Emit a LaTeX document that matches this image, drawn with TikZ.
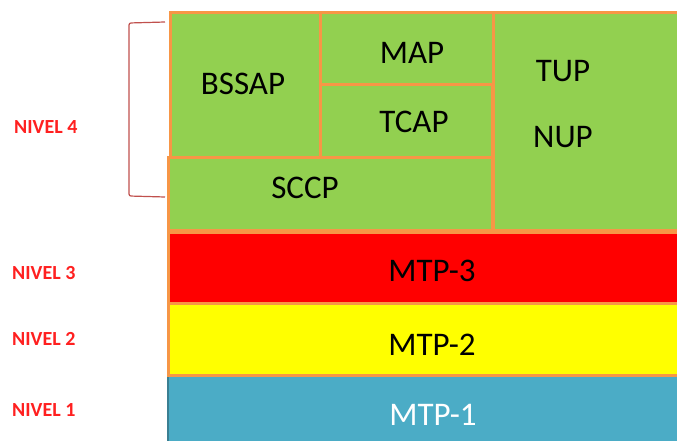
\documentclass[tikz,border=0pt]{standalone}
\usepackage{fontspec}
\setmainfont{Carlito}
\usetikzlibrary{positioning}

\definecolor{frame}{HTML}{F79646}
\definecolor{leafgreen}{HTML}{92D050}
\definecolor{mtpblue}{HTML}{4BACC6}
\definecolor{mtpblueline}{HTML}{3A7F92}
\definecolor{nivelred}{HTML}{FF2020}
\definecolor{brkred}{HTML}{C0504D}
\definecolor{mtpyellow}{HTML}{FFFF00}

\begin{document}
\begin{tikzpicture}[
    x=1pt, y=-1pt,
    layer/.style={draw=frame, line width=3pt},
    lbl/.style={font=\fontsize{33}{39}\selectfont, inner sep=0pt},
    lvl/.style={font=\fontsize{20}{24}\selectfont\bfseries, text=nivelred,
      anchor=west, inner sep=0pt},
    brk/.style={draw=brkred, line width=1.2pt, rounded corners=2pt}
  ]
  \useasboundingbox (0,0) rectangle (677,441);
  \clip (0,0) rectangle (677,441);

  % lower layers (MTP)
  \draw[fill=mtpblue, draw=mtpblueline, line width=2pt] (168,375) rectangle (705,450);
  \draw[layer, fill=mtpyellow]   (168,303) rectangle (705,375);
  \draw[layer, fill=red]         (168,232) rectangle (705,303);

  % level 4 blocks
  \draw[layer, fill=leafgreen]   (168,157) rectangle (492,230);
  \draw[layer, fill=leafgreen]   (493,13)  rectangle (705,230);
  \draw[layer, fill=leafgreen]   (170,13)  rectangle (320,157);
  \draw[layer, fill=leafgreen]   (320,13)  rectangle (493,85);
  \draw[layer, fill=leafgreen]   (320,85)  rectangle (492,157);

  % block texts
  \node (bssap) [lbl] at (243,84)  {BSSAP};
  \node (map)   [lbl] at (412,53)  {MAP};
  \node (tcap)  [lbl] at (414,122) {TCAP};
  \node (sccp)  [lbl] at (305,188) {SCCP};
  \node (tup)   [lbl] at (563,71)  {TUP};
  \node (nup)   [lbl] at (563,137) {NUP};
  \node (mtp3)  [lbl] at (432,271) {MTP-3};
  \node (mtp2)  [lbl] at (432,345) {MTP-2};
  \node (mtp1)  [lbl, text=white] at (433,415) {MTP-1};

  % level labels
  \node (niv4) [lvl] at (14,127) {NIVEL 4};
  \node (niv3) [lvl] at (12,273) {NIVEL 3};
  \node (niv2) [lvl] at (12,339) {NIVEL 2};
  \node (niv1) [lvl] at (12,410) {NIVEL 1};

  % bracket of level 4
  \coordinate (btop) at (165,22);
  \coordinate (bbot) at (165,197);
  \draw[brk] (btop) -- (129,23) -- (129,196) -- (bbot);

\end{tikzpicture}
\end{document}
